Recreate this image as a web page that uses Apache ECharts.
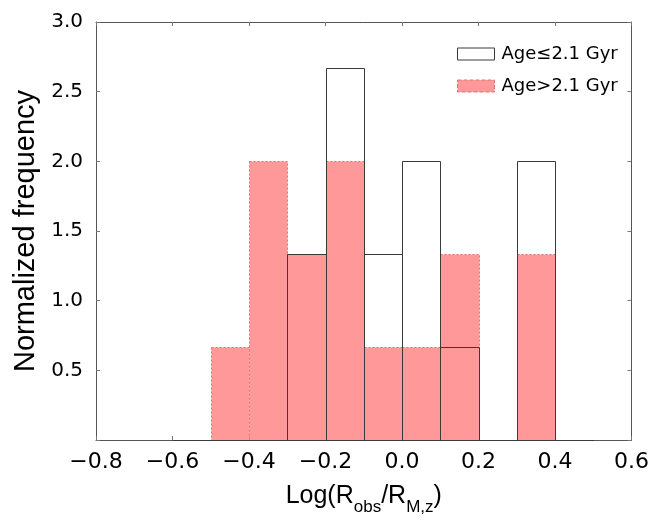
<!DOCTYPE html>
<html><head><meta charset="utf-8">
<script src="https://cdn.jsdelivr.net/npm/echarts@6/dist/echarts.min.js"></script>
<style>html,body{margin:0;padding:0;background:#fff;overflow:hidden;width:100%;height:100%}#c{width:100vw;height:100vh}</style>
</head><body><div id="c"></div>
<script>
// Histogram bin edges (bin width 0.1) and normalized frequencies
const edgesYoung = [-0.6,-0.5,-0.4,-0.3,-0.2,-0.1,0.0,0.1,0.2,0.3,0.4,0.5];
const freqYoung  = [0, 0, 0, 1.333, 2.667, 1.333, 2.0, 0.667, 0, 2.0, 0];
const edgesOld   = [-0.5,-0.4,-0.3,-0.2,-0.1,0.0,0.1,0.2,0.3,0.4];
const freqOld    = [0.667, 2.0, 1.333, 2.0, 0.667, 0.667, 1.333, 0, 1.333];
const seriesNames = ['Age\u22642.1 Gyr', 'Age>2.1 Gyr'];
const xTicks = [-0.8,-0.6,-0.4,-0.2,0.0,0.2,0.4,0.6];
const yTicks = [0.5,1.0,1.5,2.0,2.5,3.0];

function toBins(edges, freq){
  return freq.map((h,i)=>[edges[i], edges[i+1], h]);
}
function renderBars(style){
  return function(params, api){
    const p0 = api.coord([api.value(0), api.value(2)]);
    const p1 = api.coord([api.value(1), 0]);
    const x0 = Math.round(p0[0]) + 0.5, x1 = Math.round(p1[0]) + 0.5;
    const y0 = Math.round(p0[1]) + 0.5, y1 = Math.round(p1[1]) + 0.5;
    return {type:'rect', shape:{x:x0, y:y0, width:x1-x0, height:y1-y0}, style: style};
  };
}
const pinkStyle = {fill:'#ff9999', stroke:'#e07575', lineWidth:1, lineDash:[2,2]};
const outlineStyle = {fill:null, stroke:'#3a3a3a', lineWidth:1};

function fmtTick(v){
  if (Math.abs(v) < 1e-9) return '0.0';
  const s = v.toFixed(1);
  return s.replace('-', '\u2212');
}

const axisLineStyle = {color:'#555', width:1};
const tickStyle = {show:true, inside:true, length:4, lineStyle:{color:'#777'}};
const chart = echarts.init(document.getElementById('c'), null, {renderer:'canvas'});
chart.setOption({
  animation:false,
  backgroundColor:'#fff',
  grid:{left:96, right:12, top:22, bottom:76, containLabel:false},
  legend:{
    left:452, top:40, orient:'vertical', itemWidth:37, itemHeight:12, itemGap:14,
    textStyle:{fontFamily:'DejaVu Sans', fontSize:18, color:'#000', padding:[0,0,0,2]},
    data:[
      {name:seriesNames[0], icon:'rect', itemStyle:{color:'#fff', borderColor:'#3a3a3a', borderWidth:1}},
      {name:seriesNames[1], icon:'rect', itemStyle:{color:'#ff9999', borderColor:'#e07575', borderWidth:1, borderType:'dashed'}}
    ]
  },
  xAxis:[{
    type:'value', min:-0.8, max:0.6, interval:0.2,
    axisLine:{show:true, onZero:false, lineStyle:axisLineStyle},
    axisTick:tickStyle,
    splitLine:{show:false},
    axisLabel:{formatter:fmtTick, fontFamily:'DejaVu Sans', fontSize:22, color:'#000', margin:11},
    name:'{a|Log(R}{s|obs}{a|/R}{s|M,z}{a|)}',
    nameLocation:'middle', nameGap:36,
    nameTextStyle:{rich:{
      a:{fontFamily:'Liberation Sans', fontSize:25, color:'#000', lineHeight:40, verticalAlign:'middle'},
      s:{fontFamily:'Liberation Sans', fontSize:17, color:'#000', lineHeight:40, verticalAlign:'bottom'}
    }}
  },{
    type:'value', position:'top', min:-0.8, max:0.6, interval:0.2,
    axisLine:{show:true, onZero:false, lineStyle:axisLineStyle},
    axisTick:tickStyle,
    splitLine:{show:false}, axisLabel:{show:false}
  }],
  yAxis:[{
    type:'value', min:0, max:3, interval:0.5,
    axisLine:{show:true, onZero:false, lineStyle:axisLineStyle},
    axisTick:tickStyle,
    splitLine:{show:false},
    axisLabel:{formatter:function(v){ return (v < 1e-9) ? '' : v.toFixed(1); },
      fontFamily:'DejaVu Sans', fontSize:20, color:'#000', margin:13},
    name:'Normalized frequency', nameLocation:'middle', nameRotate:90, nameGap:55,
    nameTextStyle:{fontFamily:'Liberation Sans', fontSize:29, color:'#000'}
  },{
    type:'value', position:'right', min:0, max:3, interval:0.5,
    axisLine:{show:true, onZero:false, lineStyle:axisLineStyle},
    axisTick:tickStyle,
    splitLine:{show:false}, axisLabel:{show:false}
  }],
  series:[
    {
      name:seriesNames[1], type:'custom', xAxisIndex:0, yAxisIndex:0,
      renderItem:renderBars(pinkStyle),
      itemStyle:{color:'#ff9999'},
      encode:{x:[0,1], y:2},
      data:toBins(edgesOld, freqOld), z:2
    },
    {
      name:seriesNames[0], type:'custom', xAxisIndex:0, yAxisIndex:0,
      renderItem:renderBars(outlineStyle),
      itemStyle:{color:'#fff', borderColor:'#3a3a3a'},
      encode:{x:[0,1], y:2},
      data:toBins(edgesYoung, freqYoung), z:3
    }
  ]
});
</script>
</body></html>
